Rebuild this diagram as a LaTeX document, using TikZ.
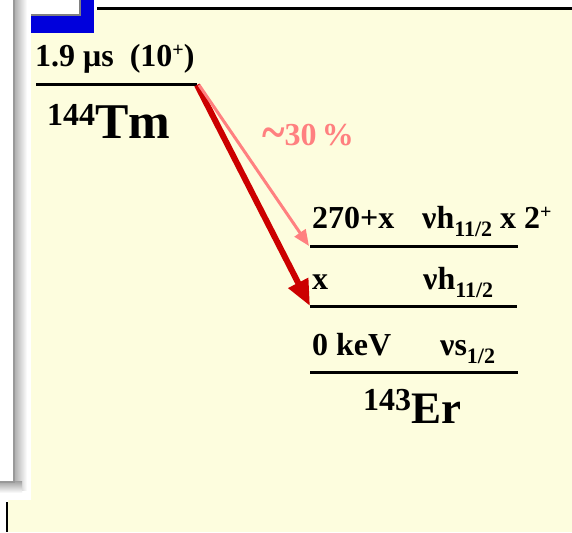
\documentclass[tikz,border=0pt]{standalone}
\usepackage{fontspec}
\usepackage{graphicx}
\setmainfont{Liberation Serif}
\usetikzlibrary{arrows.meta}
\definecolor{cream}{RGB}{253,253,222}
\definecolor{dkred}{RGB}{204,0,0}
\definecolor{pinkc}{RGB}{255,128,128}
\definecolor{slideblue}{RGB}{0,0,220}
\newcommand\mysub[1]{\raisebox{-8pt}{\fontsize{22}{22}\selectfont #1}}
\newcommand\mysup[1]{\raisebox{10pt}{\fontsize{20}{20}\selectfont #1}}
\newcommand\bigsup[1]{\raisebox{13pt}{\fontsize{32}{32}\selectfont #1}}
\newcommand\bigtilde{\raisebox{-4pt}{\scalebox{1.35}[1.6]{\char"7E}}}
\begin{document}
\begin{tikzpicture}[x=1pt,y=-1pt,
  lvl/.style={line width=3pt},
  lab/.style={font=\bfseries\fontsize{32}{34}\selectfont, anchor=base west, inner sep=0pt},
  nuc/.style={font=\bfseries, anchor=base west, inner sep=0pt}]
\useasboundingbox (0,0) rectangle (572,532);
\fill[white] (0,0) rectangle (572,532);
\fill[cream] (31,10) rectangle (572,532);
\fill[cream] (8,500) rectangle (31,532);
% left window with shadow
\shade[left color=gray!75, right color=white] (12,0) rectangle (27,490);
\shade[top color=gray!75, bottom color=white] (0,481) rectangle (22,493);
\fill[white] (0,0) rectangle (13,481);
\draw[gray!80, line width=1.5pt] (0,482) -- (14,482) -- (14,0);
\draw[black, line width=2pt] (7,502) -- (7,532);
% blue square
\fill[slideblue] (31,0) rectangle (94,33);
\fill[white] (31,0) rectangle (80,15);
\draw[gray, line width=1.2pt] (31,15) -- (80,15) -- (80,0);
% top rule
\draw[black, line width=2.5pt] (97,8.5) -- (572,8.5);
% parent
\node[lab] (half) at (35,67) {1.9 μs\ \ (10\mysup{+})};
\coordinate (tmL) at (36,85);
\coordinate (tmR) at (197,85);
\draw[lvl] (tmL) -- (tmR);
\node[nuc] (tm) at (47,138) {\bigsup{144}{\fontsize{50}{52}\selectfont Tm}};
% daughter levels
\coordinate (l1L) at (310,246); \coordinate (l1R) at (518,246);
\coordinate (l2L) at (310,306); \coordinate (l2R) at (517,306);
\coordinate (l3L) at (310,372); \coordinate (l3R) at (518,372);
\draw[lvl] (l1L) -- (l1R);
\draw[lvl] (l2L) -- (l2R);
\draw[lvl] (l3L) -- (l3R);
\node[lab] (e1) at (312,228) {270+x};
\node[lab] (c1) at (422,228) {νh\mysub{11/2} x 2\mysup{+}};
\node[lab] (e2) at (312,289) {x};
\node[lab] (c2) at (423,289) {νh\mysub{11/2}};
\node[lab] (e3) at (312,355) {0 keV};
\node[lab] (c3) at (440,355) {νs\mysub{1/2}};
\node[nuc] (er) at (363,423) {\bigsup{143}{\fontsize{45}{47}\selectfont Er}};
% transitions
\draw[dkred, line width=6pt, -{Triangle[length=26pt,width=21pt]}] (tmR) -- (l2L);
\draw[pinkc, line width=3pt, -{Triangle[length=16pt,width=13pt]}] ([xshift=2pt]tmR) -- ([xshift=-1pt]l1L);
\node[lab, text=pinkc] (pct) at (262,145) {\bigtilde 30\,\%};
\end{tikzpicture}
\end{document}
